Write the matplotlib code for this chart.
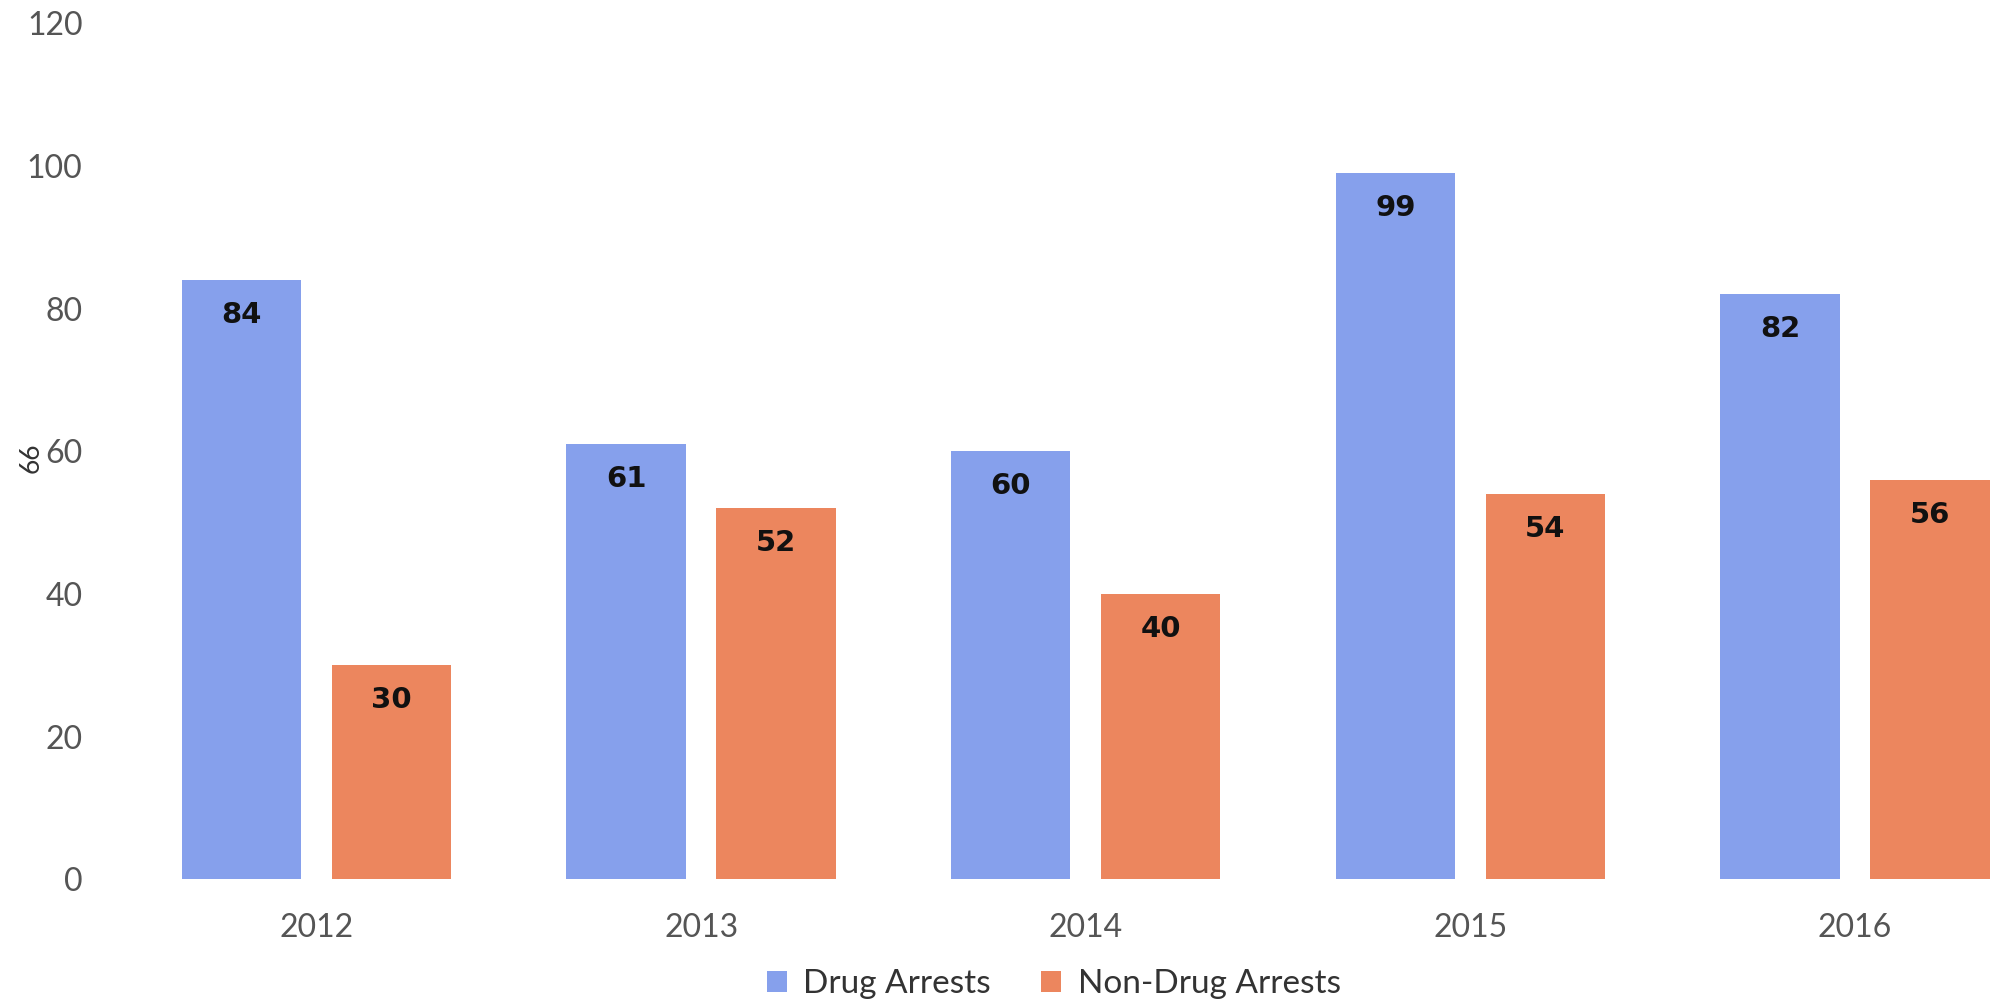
import matplotlib
matplotlib.use("Agg")
import matplotlib.pyplot as plt
import numpy as np

years = ["2012", "2013", "2014", "2015", "2016"]
drug = [84, 61, 60, 99, 82]
non_drug = [30, 52, 40, 54, 56]
series_names = ["Drug Arrests", "Non-Drug Arrests"]
yticks = [0, 20, 40, 60, 80, 100, 120]

blue = "#86a0ec"
orange = "#ec865e"
tick_color = "#555555"

fig = plt.figure(figsize=(20.03, 10.06), dpi=100)
ax = fig.add_axes([0.062, 0.126, 0.938, 0.851])

x = np.arange(len(years))
w = 0.31
off = 0.195
b1 = ax.bar(x - off, drug, w, color=blue, label=series_names[0])
b2 = ax.bar(x + off, non_drug, w, color=orange, label=series_names[1])

for bars, vals in ((b1, drug), (b2, non_drug)):
    for r, v in zip(bars, vals):
        ax.annotate(str(v), (r.get_x() + r.get_width() / 2, v),
                    xytext=(0, -35), textcoords="offset pixels",
                    ha="center", va="center", fontsize=21,
                    fontweight="bold", family="DejaVu Sans", color="#111111")

ax.set_ylim(0, 120)
ax.set_xlim(-0.5, 4.385)
ax.set_yticks(yticks)
ax.set_xticks(x)
ax.set_xticklabels(years)
for s in ax.spines.values():
    s.set_visible(False)
ax.tick_params(axis="both", length=0, labelsize=23, labelcolor=tick_color)
ax.tick_params(axis="y", pad=30)
ax.tick_params(axis="x", pad=24)
for lbl in ax.get_xticklabels() + ax.get_yticklabels():
    lbl.set_family("Lato")

fig.text(0.0155, 0.545, "66", rotation=90, fontsize=19, color="#333333",
         family="Lato", ha="center", va="center")

leg = fig.legend(handles=[b1, b2], loc="center", bbox_to_anchor=(0.526, 0.022),
                 ncol=2, frameon=False, handlelength=0.6,
                 handleheight=0.6, handletextpad=0.5, columnspacing=1.5,
                 prop={"family": "Lato", "size": 24})
for t in leg.get_texts():
    t.set_color("#333333")

fig.savefig("out.png", dpi=100, facecolor="white")
